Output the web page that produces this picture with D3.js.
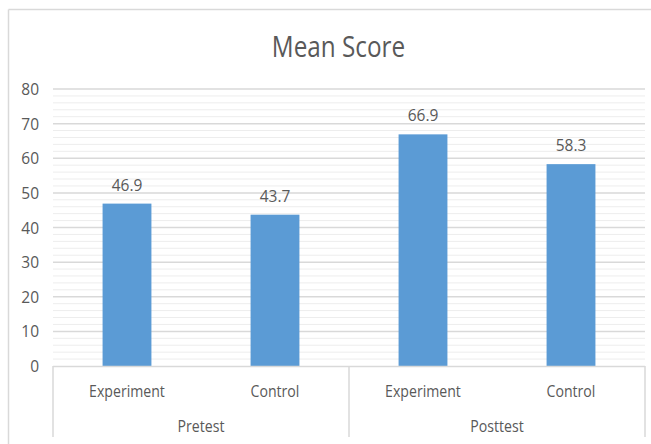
<!DOCTYPE html>
<html>
<head>
<meta charset="utf-8">
<script src="https://cdn.jsdelivr.net/npm/d3@7"></script>
<style>
  html, body { margin: 0; padding: 0; background: #fff; }
  svg { display: block; }
  text { font-family: "Open Sans", "Noto Sans", sans-serif; fill: #595959; }
</style>
</head>
<body>
<svg id="chart" width="651" height="444"></svg>
<script>
// ---- data ----
const title = "Mean Score";
const groups = ["Pretest", "Posttest"];
const subCategories = ["Experiment", "Control"];
const values = [46.9, 43.7, 66.9, 58.3]; // Pretest-Experiment, Pretest-Control, Posttest-Experiment, Posttest-Control
const yTicks = [0, 10, 20, 30, 40, 50, 60, 70, 80];

// ---- layout ----
const W = 651, H = 444;
const plot = { left: 53, right: 645, top: 89, bottom: 366 };
const svg = d3.select("#chart");

// flattened categories
const cats = [];
groups.forEach(g => subCategories.forEach(s => cats.push(g + "|" + s)));
const data = cats.map((c, i) => ({ key: c, group: c.split("|")[0], sub: c.split("|")[1], value: values[i] }));

const x = d3.scaleBand().domain(cats).range([plot.left, plot.right]).paddingInner(0.67).paddingOuter(0.335);
const y = d3.scaleLinear().domain([0, 80]).range([plot.bottom, plot.top]);

// frame (chart area border, partially visible)
svg.append("line").attr("x1", 8.5).attr("x2", W).attr("y1", 9.5).attr("y2", 9.5)
  .attr("stroke", "#d9d9d9").attr("stroke-width", 1.5);
svg.append("line").attr("x1", 8.5).attr("x2", 8.5).attr("y1", 9.5).attr("y2", H)
  .attr("stroke", "#d9d9d9").attr("stroke-width", 1.5);

// minor gridlines
const minor = d3.range(2, 80, 2).filter(v => v % 10 !== 0);
svg.append("g").selectAll("line").data(minor).join("line")
  .attr("x1", plot.left).attr("x2", plot.right)
  .attr("y1", d => y(d)).attr("y2", d => y(d))
  .attr("stroke", "#ededed").attr("stroke-width", 1);

// major gridlines
svg.append("g").selectAll("line").data(yTicks.filter(v => v > 0)).join("line")
  .attr("x1", plot.left).attr("x2", plot.right)
  .attr("y1", d => y(d)).attr("y2", d => y(d))
  .attr("stroke", "#d9d9d9").attr("stroke-width", 1.5);

// y axis labels
const yAxis = svg.append("g").attr("transform", `translate(${plot.left},0)`)
  .call(d3.axisLeft(y).tickValues(yTicks).tickSize(0).tickPadding(14));
yAxis.select(".domain").remove();
yAxis.selectAll("text").style("font-size", "15.5px").style("fill", "#595959")
  .style("font-family", '"Open Sans", sans-serif').attr("dy", "0.36em");

// bars
svg.append("g").selectAll("rect").data(data).join("rect")
  .attr("x", d => x(d.key)).attr("width", x.bandwidth())
  .attr("y", d => y(d.value)).attr("height", d => y(0) - y(d.value))
  .attr("fill", "#5b9bd5");

// bar value labels
svg.append("g").selectAll("text").data(data).join("text")
  .attr("x", d => x(d.key) + x.bandwidth() / 2)
  .attr("y", d => y(d.value) - 13)
  .attr("text-anchor", "middle").style("font-size", "15.5px")
  .text(d => d.value.toFixed(1));

// category axis (two-level)
const axisG = svg.append("g");
axisG.append("line").attr("x1", plot.left).attr("x2", plot.right)
  .attr("y1", plot.bottom + 0.5).attr("y2", plot.bottom + 0.5)
  .attr("stroke", "#d9d9d9").attr("stroke-width", 1.5);

const step = x.step();
const groupBounds = groups.map((g, gi) => {
  const first = x(g + "|" + subCategories[0]) - x.paddingInner() * step / 2;
  const last = x(g + "|" + subCategories[subCategories.length - 1]) + x.bandwidth() + x.paddingInner() * step / 2;
  return { g, x0: first, x1: last };
});
const seps = [plot.left].concat(groupBounds.map(b => Math.min(b.x1, plot.right)));
axisG.selectAll("line.sep").data(seps).join("line").attr("class", "sep")
  .attr("x1", d => d).attr("x2", d => d)
  .attr("y1", plot.bottom).attr("y2", 437)
  .attr("stroke", "#d9d9d9").attr("stroke-width", 1.5);

function condense(sel, f) {
  sel.each(function () {
    const w = this.getComputedTextLength();
    d3.select(this).attr("textLength", w * f).attr("lengthAdjust", "spacingAndGlyphs");
  });
}

axisG.selectAll("text.sub").data(data).join("text").attr("class", "sub")
  .attr("x", d => x(d.key) + x.bandwidth() / 2).attr("y", 397)
  .attr("text-anchor", "middle").style("font-size", "15.5px")
  .text(d => d.sub).call(condense, 0.91);

axisG.selectAll("text.grp").data(groupBounds).join("text").attr("class", "grp")
  .attr("x", d => (d.x0 + d.x1) / 2).attr("y", 432)
  .attr("text-anchor", "middle").style("font-size", "15.5px")
  .text(d => d.g).call(condense, 0.91);

// title
svg.append("text").attr("x", 338.5).attr("y", 57)
  .attr("text-anchor", "middle").style("font-size", "30px")
  .text(title).call(condense, 0.81);
</script>
</body>
</html>
